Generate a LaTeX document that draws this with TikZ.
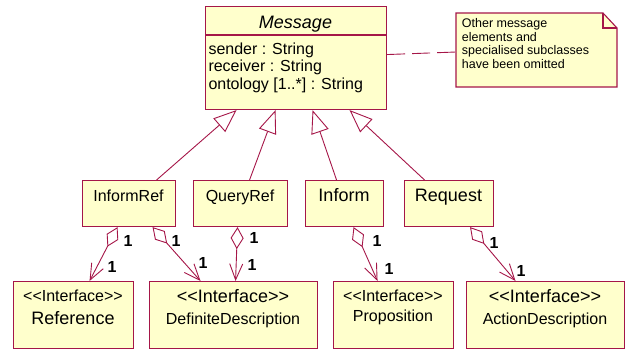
\documentclass[tikz,border=0pt]{standalone}
\usepackage{fontspec}
\setmainfont{Liberation Sans}
\usetikzlibrary{arrows.meta}
\usetikzlibrary{calc}
\definecolor{uml-red}{RGB}{165, 22, 72}
\definecolor{uml-yellow}{RGB}{255, 255, 204}
\newcommand\umlsmall{\fontsize{16}{19}\selectfont}
\newcommand\umlbig{\fontsize{18}{21}\selectfont}
\newcommand\umlstereo{<\kern0pt<Interface>\kern0pt>}

\tikzset{
  classbox/.style={draw=uml-red, fill=uml-yellow, line width=1.1pt, inner sep=0pt, anchor=north west},
  classtext/.style={anchor=base, inner sep=0pt},
  attrtext/.style={anchor=north west, inner sep=0pt, align=left, font=\fontsize{16}{17.6}\selectfont},
  multtext/.style={inner sep=0pt, font=\fontsize{16}{19}\selectfont\bfseries},
  inherit/.style={draw=uml-red, line width=0.9pt, -{Triangle[length=23pt, width=18pt, fill=white]}},
  aggr/.style={draw=uml-red, line width=0.9pt, {Diamond[length=22pt, width=13pt, fill=white]}-{Straight Barb[length=16pt, width=13pt]}},
  notelink/.style={draw=uml-red, line width=0.9pt, dash pattern=on 18pt off 7pt},
}

\begin{document}
\begin{tikzpicture}[x=1pt, y=-1pt]
\useasboundingbox (0,0) rectangle (625,351);

% Message
\node[classbox, minimum width=181pt, minimum height=103pt] (message) at (205,6) {};
\draw[uml-red, line width=1.1pt] (205,35) -- (386,35);
\node[classtext, font=\umlbig\itshape] (message-name) at (295.5,28.3) {Message};
\node[attrtext] (message-attr) at (208.3,42.6) {sender : String\\receiver : String\\ontology [1..*] : String};

% note
\filldraw[draw=uml-red, fill=uml-yellow, line width=1.1pt] (456,13) -- (603,13) -- (617,28) -- (617,87) -- (456,87) -- cycle;
\draw[uml-red, line width=1.1pt] (603,13) -- (603,28) -- (617,28);
\node[anchor=north west, inner sep=0pt, align=left, font=\fontsize{12.5}{13.6}\selectfont] (note-text) at (461.7,18.2) {Other message\\elements and\\specialised subclasses\\have been omitted};
\coordinate (note-w) at (456,52);
\draw[notelink] ([yshift=3.5pt]message.east) -- (note-w);

% subclasses
\node[classbox, minimum width=93pt, minimum height=46pt] (informref) at (82,180) {};
\node[classbox, minimum width=94pt, minimum height=46pt] (queryref) at (193,180) {};
\node[classbox, minimum width=78pt, minimum height=46pt] (inform) at (305,180) {};
\node[classbox, minimum width=89pt, minimum height=46pt] (request) at (404,180) {};
\node[classtext, font=\umlsmall] (informref-name) at (128.5,201.5) {InformRef};
\node[classtext, font=\umlsmall] (queryref-name) at (240,201.5) {QueryRef};
\node[classtext, font=\umlbig] (inform-name) at (344,201.5) {Inform};
\node[classtext, font=\umlbig] (request-name) at (448.5,201.5) {Request};

% interfaces
\node[classbox, minimum width=120pt, minimum height=67pt] (reference) at (13,281) {};
\node[classbox, minimum width=168pt, minimum height=67pt] (definitedesc) at (149,281) {};
\node[classbox, minimum width=120pt, minimum height=67pt] (proposition) at (333,281) {};
\node[classbox, minimum width=158pt, minimum height=67pt] (actiondesc) at (466,281) {};
\node[classtext, font=\umlsmall] (reference-stereo) at (73,301.5) {\umlstereo};
\node[classtext, font=\umlbig] (reference-name) at (73,324) {Reference};
\node[classtext, font=\umlbig] (definitedesc-stereo) at (233,302.5) {\umlstereo};
\node[classtext, font=\umlsmall] (definitedesc-name) at (233,324) {DefiniteDescription};
\node[classtext, font=\umlsmall] (proposition-stereo) at (393,301.5) {\umlstereo};
\node[classtext, font=\umlsmall] (proposition-name) at (393,321.7) {Proposition};
\node[classtext, font=\umlbig] (actiondesc-stereo) at (545,302.5) {\umlstereo};
\node[classtext, font=\umlsmall] (actiondesc-name) at (545,324) {ActionDescription};

% generalisation
\draw[inherit] ([xshift=27.5pt]informref.north) -- ([xshift=-59.5pt]message.south);
\draw[inherit] ([xshift=9pt]queryref.north) -- ([xshift=-20.5pt]message.south);
\draw[inherit] ([xshift=-8pt]inform.north) -- ([xshift=16.5pt]message.south);
\draw[inherit] ([xshift=-24.5pt]request.north) -- ([xshift=53.5pt]message.south);

% aggregation
\draw[aggr] ([xshift=-11.5pt]informref.south) -- ([xshift=16pt]reference.north);
\draw[aggr] ([xshift=23.5pt]informref.south) -- ([xshift=-33pt]definitedesc.north);
\draw[aggr] ([xshift=-3pt]queryref.south) -- ([xshift=2pt]definitedesc.north);
\draw[aggr] ([xshift=9pt]inform.south) -- ([xshift=-16pt]proposition.north);
\draw[aggr] ([xshift=21pt]request.south) -- ([xshift=-30pt]actiondesc.north);

% multiplicities
\node[multtext] (reference-m1) at (128,241) {1};
\node[multtext] (reference-m2) at (112,267) {1};
\node[multtext] (definitedesc-m1) at (176,241) {1};
\node[multtext] (definitedesc-m2) at (203,263) {1};
\node[multtext] (definitedesc-m3) at (254,238) {1};
\node[multtext] (definitedesc-m4) at (252,265) {1};
\node[multtext] (proposition-m1) at (377,241) {1};
\node[multtext] (proposition-m2) at (389,269) {1};
\node[multtext] (actiondesc-m1) at (494,243) {1};
\node[multtext] (actiondesc-m2) at (521,271) {1};
\end{tikzpicture}
\end{document}
